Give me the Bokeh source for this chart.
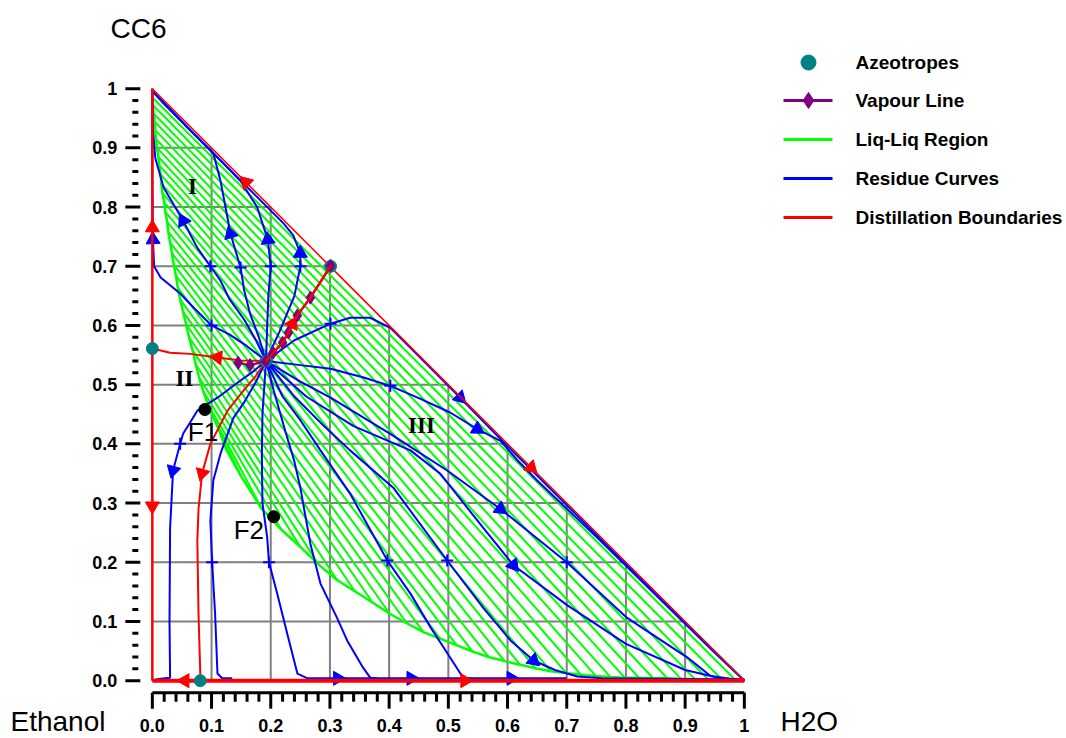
import math
from bokeh.plotting import figure
from bokeh.models import Range1d
from bokeh.embed import file_html
from bokeh.resources import INLINE
from bokeh.core.properties import value

# Ternary diagram Ethanol / H2O / CC6 drawn in right-angle form:
# x = H2O mole fraction, y = CC6 mole fraction, ethanol = 1 - x - y.

# ---- azeotropes and feeds ----
azeo_x = [0.192, 0.000, 0.081, 0.301]
azeo_y = [0.540, 0.561, 0.000, 0.700]

feed_names = ["F1", "F2"]
feed_x = [0.0887, 0.205]
feed_y = [0.458, 0.277]

# ---- vapour line ----
vap_x = [0.145, 0.165, 0.192, 0.204, 0.220, 0.230, 0.245, 0.267, 0.301]
vap_y = [0.537, 0.533, 0.540, 0.554, 0.571, 0.588, 0.617, 0.647, 0.701]

# ---- liquid-liquid region: tie lines (organic end -> aqueous end) ----
tie_left_y = [0.985, 0.972, 0.958, 0.944, 0.930, 0.915, 0.900, 0.885, 0.870, 0.855, 0.840, 0.824, 0.808,
              0.792, 0.775, 0.758, 0.740, 0.722, 0.703, 0.684, 0.664, 0.644, 0.623, 0.602, 0.580, 0.558,
              0.535, 0.512, 0.489, 0.466, 0.445, 0.425]
tie_left_x = [0.000, 0.001, 0.002, 0.004, 0.005, 0.006, 0.008, 0.010, 0.012, 0.014, 0.015, 0.017, 0.020,
              0.022, 0.025, 0.027, 0.030, 0.033, 0.036, 0.040, 0.043, 0.047, 0.052, 0.057, 0.062, 0.068,
              0.073, 0.079, 0.086, 0.094, 0.103, 0.112]
tie_right_x = [0.985, 0.962, 0.939, 0.916, 0.893, 0.870, 0.846, 0.822, 0.798, 0.774, 0.749, 0.724, 0.699,
               0.673, 0.647, 0.621, 0.595, 0.568, 0.541, 0.514, 0.486, 0.458, 0.430, 0.401, 0.372, 0.342,
               0.312, 0.281, 0.250, 0.218, 0.185, 0.150]
tie_right_y = [0.001, 0.002, 0.002, 0.003, 0.003, 0.004, 0.004, 0.005, 0.005, 0.006, 0.008, 0.010, 0.013,
               0.016, 0.021, 0.027, 0.033, 0.040, 0.049, 0.060, 0.071, 0.082, 0.097, 0.113, 0.132, 0.151,
               0.170, 0.196, 0.226, 0.255, 0.290, 0.345]
plait_x = [0.125]
plait_y = [0.390]

# ---- residue curves (listed from the ternary azeotrope outwards) ----
residue_curves = {
    "R1": [(0.192, 0.540), (0.175, 0.575), (0.155, 0.610), (0.130, 0.645), (0.115, 0.676), (0.098, 0.700),
           (0.076, 0.731), (0.052, 0.777), (0.042, 0.794), (0.019, 0.833), (0.005, 0.883), (0.001, 0.930),
           (0.000, 1.000)],
    "R2": [(0.192, 0.540), (0.180, 0.580), (0.165, 0.620), (0.155, 0.660), (0.149, 0.698), (0.132, 0.755),
           (0.115, 0.845), (0.103, 0.891), (0.060, 0.934), (0.020, 0.974), (0.000, 0.996)],
    "R3": [(0.192, 0.540), (0.194, 0.600), (0.196, 0.650), (0.200, 0.700), (0.195, 0.745), (0.177, 0.800),
           (0.149, 0.844), (0.120, 0.874), (0.060, 0.934), (0.000, 0.996)],
    "R4": [(0.192, 0.540), (0.215, 0.590), (0.240, 0.650), (0.250, 0.700), (0.250, 0.722), (0.238, 0.752),
           (0.222, 0.772), (0.150, 0.844), (0.060, 0.934), (0.000, 0.996)],
    "R5": [(0.192, 0.540), (0.160, 0.565), (0.130, 0.585), (0.100, 0.600), (0.070, 0.630), (0.047, 0.654),
           (0.014, 0.681), (0.003, 0.700), (0.001, 0.745), (0.000, 0.850), (0.000, 1.000)],
    "R6": [(0.192, 0.540), (0.170, 0.522), (0.149, 0.507), (0.110, 0.478), (0.076, 0.456), (0.052, 0.417),
           (0.047, 0.400), (0.035, 0.355), (0.030, 0.258), (0.029, 0.100), (0.030, 0.005), (0.010, 0.003),
           (0.000, 0.000)],
    "R7": [(0.192, 0.540), (0.175, 0.505), (0.155, 0.470), (0.137, 0.444), (0.115, 0.383), (0.103, 0.338),
           (0.098, 0.270), (0.101, 0.200), (0.106, 0.113), (0.110, 0.012), (0.118, 0.004), (0.135, 0.004)],
    "R8": [(0.192, 0.540), (0.186, 0.450), (0.185, 0.380), (0.186, 0.300), (0.194, 0.242), (0.197, 0.200),
           (0.211, 0.147), (0.228, 0.079), (0.245, 0.012), (0.262, 0.004), (0.380, 0.004)],
    "R9": [(0.192, 0.540), (0.205, 0.490), (0.225, 0.420), (0.240, 0.370), (0.250, 0.326), (0.267, 0.231),
           (0.284, 0.164), (0.312, 0.106), (0.329, 0.068), (0.356, 0.022), (0.368, 0.005), (0.380, 0.004),
           (0.530, 0.004)],
    "R10": [(0.192, 0.540), (0.220, 0.480), (0.250, 0.440), (0.284, 0.389), (0.334, 0.316), (0.397, 0.203),
            (0.436, 0.147), (0.470, 0.090), (0.503, 0.039), (0.525, 0.005), (0.540, 0.004), (0.700, 0.004)],
    "R11": [(0.192, 0.540), (0.240, 0.480), (0.290, 0.430), (0.334, 0.389), (0.407, 0.326), (0.498, 0.203),
            (0.559, 0.123), (0.605, 0.068), (0.644, 0.034), (0.680, 0.018), (0.718, 0.007), (0.760, 0.004),
            (1.000, 0.002)],
    "R12": [(0.192, 0.540), (0.260, 0.480), (0.340, 0.430), (0.436, 0.389), (0.486, 0.350), (0.559, 0.258),
            (0.610, 0.195), (0.700, 0.128), (0.800, 0.062), (0.900, 0.018), (0.960, 0.004), (1.000, 0.001)],
    "R13": [(0.192, 0.540), (0.250, 0.505), (0.301, 0.478), (0.402, 0.417), (0.498, 0.355), (0.588, 0.290),
            (0.700, 0.200), (0.802, 0.106), (0.904, 0.039), (0.943, 0.008), (1.000, 0.000)],
    "R14": [(0.192, 0.540), (0.250, 0.533), (0.301, 0.527), (0.357, 0.512), (0.402, 0.498), (0.453, 0.476),
            (0.503, 0.453), (0.549, 0.425), (0.588, 0.405), (0.617, 0.372), (0.650, 0.338), (0.750, 0.243),
            (0.850, 0.145), (0.950, 0.047), (1.000, 0.000)],
    "R15": [(0.192, 0.540), (0.240, 0.575), (0.301, 0.603), (0.334, 0.613), (0.368, 0.613), (0.402, 0.596),
            (0.441, 0.557), (0.486, 0.512), (0.520, 0.478), (0.600, 0.396), (0.800, 0.197), (1.000, 0.000)],
}
# arrow heads placed on residue curves: (curve, x, y)
residue_arrows = [("R1", 0.052, 0.777), ("R2", 0.132, 0.755), ("R3", 0.195, 0.745), ("R4", 0.250, 0.722),
                  ("R5", 0.001, 0.745), ("R6", 0.035, 0.355), ("R8", 0.313, 0.004), ("R9", 0.437, 0.004),
                  ("R10", 0.606, 0.004), ("R11", 0.644, 0.034), ("R12", 0.610, 0.195), ("R13", 0.588, 0.290),
                  ("R14", 0.549, 0.425), ("R15", 0.520, 0.478)]
# start points of the residue-curve integrations
seed_x = [0.098, 0.149, 0.200, 0.250, 0.100, 0.047, 0.101, 0.197, 0.397, 0.498, 0.700, 0.301, 0.402]
seed_y = [0.700, 0.698, 0.700, 0.700, 0.600, 0.400, 0.200, 0.200, 0.203, 0.203, 0.200, 0.603, 0.498]

# ---- distillation boundaries (from the unstable node outwards) ----
boundaries = {
    "B1": [(0.192, 0.540), (0.149, 0.541), (0.110, 0.546), (0.064, 0.552), (0.030, 0.554), (0.000, 0.561)],
    "B2": [(0.192, 0.540), (0.204, 0.554), (0.220, 0.571), (0.230, 0.588), (0.245, 0.617), (0.267, 0.647),
           (0.301, 0.699)],
    "B3": [(0.192, 0.540), (0.175, 0.515), (0.154, 0.490), (0.127, 0.456), (0.098, 0.400), (0.084, 0.350),
           (0.078, 0.290), (0.076, 0.236), (0.078, 0.113), (0.081, 0.012), (0.081, 0.000)],
    "E_up": [(0.000, 0.561), (0.000, 1.000)],
    "E_down": [(0.000, 0.561), (0.000, 0.000)],
    "E_left": [(0.081, 0.000), (0.000, 0.000)],
    "E_right": [(0.081, 0.000), (1.000, 0.000)],
    "H_up": [(0.301, 0.699), (0.000, 1.000)],
    "H_down": [(0.301, 0.699), (1.000, 0.000)],
}
boundary_widths = {"B1": 2, "B2": 2, "B3": 2, "E_up": 2.5, "E_down": 2.5, "E_left": 4, "E_right": 4,
                   "H_up": 1.5, "H_down": 1.5}
boundary_arrows = [("B1", 0.110, 0.546), ("B2", 0.237, 0.603), ("B3", 0.084, 0.350), ("E_up", 0.0, 0.765),
                   ("E_down", 0.0, 0.295), ("E_left", 0.055, 0.0), ("E_right", 0.528, 0.0),
                   ("H_up", 0.158, 0.842), ("H_down", 0.640, 0.360)]

axis_ticks = [0.0, 0.1, 0.2, 0.3, 0.4, 0.5, 0.6, 0.7, 0.8, 0.9, 1.0]
tick_labels = ["0.0", "0.1", "0.2", "0.3", "0.4", "0.5", "0.6", "0.7", "0.8", "0.9", "1"]
minor_ticks = [round(0.02 * i, 2) for i in range(51) if i % 5]

legend_labels = ["Azeotropes", "Vapour Line", "Liq-Liq Region", "Residue Curves", "Distillation Boundaries"]

BLUE, RED, GREEN, GREY = "#0000FF", "#FF0000", "#00FF00", "#808080"
TEAL, PURPLE = "#008080", "#800080"

# ---- canvas: 592 px per composition unit, origin at pixel (151.84, 680.16) ----
S = 592.0
OX, OY = 151.84, 680.16
W, H = 1066, 738
p = figure(width=W, height=H, output_backend="svg", toolbar_location=None,
           x_range=Range1d(-OX / S, (W - OX) / S), y_range=Range1d(-(H - OY) / S, OY / S),
           min_border=0, x_axis_type=None, y_axis_type=None)
p.outline_line_color = None
p.grid.visible = False
p.background_fill_color = "white"


def px(sx, sy):
    """screen pixel -> data coordinates (for placing annotations)"""
    return (sx - OX) / S, (OY - sy) / S


def direction_at(pts, x, y):
    best, ang = None, 0.0
    for (ax, ay), (bx, by) in zip(pts[:-1], pts[1:]):
        dx, dy = bx - ax, by - ay
        L2 = dx * dx + dy * dy
        if L2 == 0:
            continue
        t = max(0.0, min(1.0, ((x - ax) * dx + (y - ay) * dy) / L2))
        d = (ax + t * dx - x) ** 2 + (ay + t * dy - y) ** 2
        if best is None or d < best:
            best, ang = d, math.atan2(dy, dx)
    return ang - math.pi / 2


TICK_FONT = dict(text_font=value("Liberation Sans"), text_font_style="bold", text_font_size="18px",
                 text_color="black")

# ---- bottom axis (H2O), offset 12 px below the triangle ----
ay = -12 / S
n, m = len(axis_ticks), len(minor_ticks)
p.line([0, 1], [ay, ay], line_color="black", line_width=3)
p.segment(axis_ticks, [ay] * n, axis_ticks, [ay - 16 / S] * n, line_color="black", line_width=3)
p.segment(minor_ticks, [ay] * m, minor_ticks, [ay - 9 / S] * m, line_color="black", line_width=3)
p.text(axis_ticks, [ay - 33 / S] * n, text=tick_labels, text_align="center", text_baseline="middle",
       **TICK_FONT)

# ---- left axis (CC6), ticks only ----
ax = -12 / S
p.segment([ax] * n, axis_ticks, [ax - 15 / S] * n, axis_ticks, line_color="black", line_width=3)
p.segment([ax - 2 / S] * m, minor_ticks, [ax - 8 / S] * m, minor_ticks, line_color="black", line_width=3)
p.text([ax - 23 / S] * n, axis_ticks, text=tick_labels, text_align="right", text_baseline="middle", **TICK_FONT)

# ---- grid clipped to the triangle ----
gx0, gy0, gx1, gy1 = [], [], [], []
for t in axis_ticks[1:-1]:
    gx0 += [t, 0]; gy0 += [0, t]
    gx1 += [t, 1 - t]; gy1 += [1 - t, t]
p.segment(gx0, gy0, gx1, gy1, line_color=GREY, line_width=2)

# ---- liquid-liquid region ----
p.segment(tie_left_x, tie_left_y, tie_right_x, tie_right_y, line_color=GREEN, line_width=2)
bin_x = [0.0] + tie_left_x + plait_x + tie_right_x[::-1] + [1.0]
bin_y = [1.0] + tie_left_y + plait_y + tie_right_y[::-1] + [0.0]
p.line(bin_x, bin_y, line_color=GREEN, line_width=2.5)

# ---- residue curves ----
for name, pts in residue_curves.items():
    p.line([q[0] for q in pts], [q[1] for q in pts], line_color=BLUE, line_width=2)
p.scatter(seed_x, seed_y, marker="cross", size=12, line_color=BLUE, line_width=2)
ra = [direction_at(residue_curves[c], x, y) for c, x, y in residue_arrows]
p.scatter([a[1] for a in residue_arrows], [a[2] for a in residue_arrows], angle=ra,
          marker="triangle", size=14, fill_color=BLUE, line_color=BLUE)

# ---- distillation boundaries ----
for name, pts in boundaries.items():
    p.line([q[0] for q in pts], [q[1] for q in pts], line_color=RED, line_width=boundary_widths[name])
ba = [direction_at(boundaries[c], x, y) for c, x, y in boundary_arrows]
p.scatter([a[1] for a in boundary_arrows], [a[2] for a in boundary_arrows], angle=ba,
          marker="triangle", size=14, fill_color=RED, line_color=RED)

# ---- azeotropes and vapour line ----
p.scatter(azeo_x, azeo_y, marker="circle", size=12, fill_color=TEAL, line_color=TEAL)
p.line(vap_x, vap_y, line_color=PURPLE, line_width=2)
p.scatter(vap_x, vap_y, marker="diamond", size=13, fill_color=PURPLE, line_color=PURPLE)
p.line(vap_x[2:], vap_y[2:], line_color=RED, line_width=2)

# ---- feeds ----
p.scatter(feed_x, feed_y, marker="circle", size=12, fill_color="black", line_color="black")
p.text(feed_x, feed_y, text=feed_names, x_offset=[-17, -40], y_offset=[22, 13],
       text_font=value("Liberation Sans"), text_font_size="26px", text_color="black",
       text_baseline="middle", text_align="left")

# ---- region labels ----
rx, ry = zip(px(192, 186), px(184, 378), px(421, 425))
p.text(list(rx), list(ry), text=["I", "II", "III"], text_font=value("Liberation Serif"),
       text_font_style="bold", text_font_size="23px", text_color="black",
       text_align="center", text_baseline="middle")

# ---- component labels ----
cx, cy = zip(px(110, 28), px(10, 721), px(780, 721))
p.text(list(cx), list(cy), text=["CC6", "Ethanol", "H2O"], text_font=value("Liberation Sans"),
       text_font_size="28px", text_color="black", text_baseline="middle", text_align="left")

# ---- legend ----
rows = [px(0, sy)[1] for sy in (62, 100, 139, 178, 217)]
lx0, lx1 = px(783, 0)[0], px(832, 0)[0]
mx, tx = px(808, 0)[0], px(855, 0)[0]
p.scatter([mx], [rows[0]], marker="circle", size=15, fill_color=TEAL, line_color=TEAL)
p.line([lx0, lx1], [rows[1]] * 2, line_color=PURPLE, line_width=3)
p.scatter([mx], [rows[1]], marker="diamond", size=16, fill_color=PURPLE, line_color=PURPLE)
p.line([lx0, lx1], [rows[2]] * 2, line_color=GREEN, line_width=3)
p.line([lx0, lx1], [rows[3]] * 2, line_color=BLUE, line_width=3)
p.line([lx0, lx1], [rows[4]] * 2, line_color=RED, line_width=3)
p.text([tx] * 5, rows, text=legend_labels, text_font=value("Liberation Sans"), text_font_style="bold",
       text_font_size="19px", text_color="black", text_baseline="middle", text_align="left")

open("out.html", "w").write(file_html(p, INLINE))
